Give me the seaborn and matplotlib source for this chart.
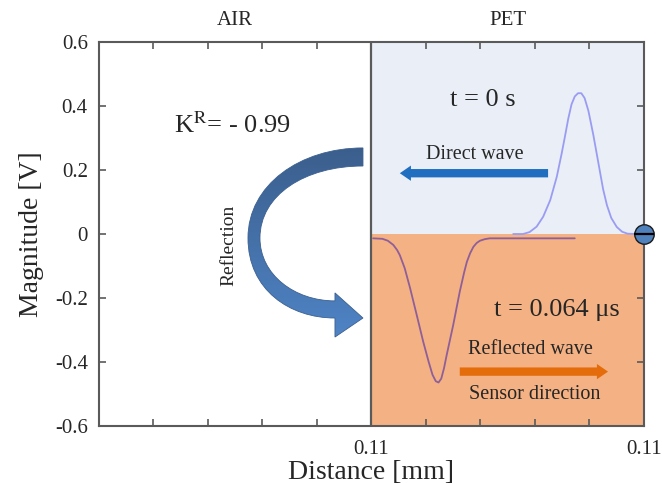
import numpy as np
import pandas as pd
import matplotlib.pyplot as plt
import seaborn as sns
from matplotlib.path import Path
from matplotlib.patches import PathPatch
from matplotlib.colors import LinearSegmentedColormap

# Wave at t = 0 (direct wave, travelling towards the interface)
direct_x = [7.6, 7.78, 7.9, 8.03, 8.15, 8.28, 8.40, 8.49, 8.55, 8.61, 8.67, 8.73, 8.79,
            8.85, 8.91, 8.98, 9.07, 9.16, 9.25, 9.32, 9.40, 9.50, 9.60, 9.70, 9.87, 10.0]
direct_y = [0.0, 0.0, 0.006, 0.023, 0.054, 0.106, 0.179, 0.252, 0.305, 0.36, 0.405, 0.43,
            0.44, 0.44, 0.425, 0.385, 0.31, 0.225, 0.14, 0.09, 0.05, 0.022, 0.007, 0.001,
            0.0, 0.0]

# Wave at t = 0.064 us (reflected, inverted)
refl_x = [5.03, 5.20, 5.30, 5.40, 5.47, 5.52, 5.61, 5.71, 5.83, 5.95, 6.05, 6.12, 6.18,
          6.23, 6.28, 6.33, 6.38, 6.50, 6.62, 6.70, 6.75, 6.81, 6.87, 6.93, 6.99, 7.08,
          7.17, 8.73]
refl_y = [-0.0135, -0.015, -0.021, -0.034, -0.050, -0.066, -0.107, -0.170, -0.253, -0.337,
          -0.400, -0.440, -0.460, -0.464, -0.452, -0.420, -0.378, -0.284, -0.180, -0.120,
          -0.087, -0.060, -0.040, -0.028, -0.021, -0.016, -0.0135, -0.0135]

x_ticks = list(range(11))
x_labels = ['', '', '', '', '', '0.11', '', '', '', '', '0.11']
y_ticks = [-0.6, -0.4, -0.2, 0, 0.2, 0.4, 0.6]
y_labels = ['-0.6', '-0.4', '-0.2', '0', '0.2', '0.4', '0.6']

sns.set_style('ticks')
plt.rcParams['font.family'] = ['Liberation Serif', 'DejaVu Serif']
plt.rcParams['mathtext.fontset'] = 'stix'

fig = plt.figure(figsize=(6.62, 4.84), dpi=100)
ax = fig.add_axes([0.1495, 0.1198, 0.8233, 0.7934])

# material regions
ax.fill_between([5, 10], 0, 0.6, color='#E9EEF7', zorder=0, lw=0)
ax.fill_between([5, 10], -0.6, 0, color='#F4B183', zorder=0, lw=0)
ax.axvline(5, color='#5a5a5a', lw=1.6, zorder=3)

df_direct = pd.DataFrame({'x': direct_x, 'y': direct_y})
df_refl = pd.DataFrame({'x': refl_x, 'y': refl_y})
sns.lineplot(data=df_direct, x='x', y='y', ax=ax, color='#9a9cf2', lw=1.3, zorder=4,
             solid_joinstyle='round')
sns.lineplot(data=df_refl, x='x', y='y', ax=ax, color='#8e5f99', lw=1.3, zorder=4,
             solid_joinstyle='round')

ax.set_xlim(0, 10)
ax.set_ylim(-0.6, 0.6)
ax.set_xticks(x_ticks)
ax.set_xticklabels(x_labels)
ax.set_yticks(y_ticks)
ax.set_yticklabels(y_labels)
ax.tick_params(direction='in', length=5, width=1.2, color='#5a5a5a', labelsize=15,
               top=True, right=True)
ax.tick_params(axis='y', pad=8)
ax.tick_params(axis='x', pad=10)
for s in ax.spines.values():
    s.set_color('#5a5a5a')
    s.set_linewidth(1.5)

ax.set_xlabel('Distance [mm]', fontsize=20)
ax.set_ylabel('Magnitude [V]', fontsize=20)
ax.xaxis.set_label_coords(0.5, -0.088)
ax.yaxis.set_label_coords(-0.1, 0.5)

# region names
ax.text(2.5, 0.668, 'AIR', ha='center', va='center', fontsize=15, clip_on=False)
ax.text(7.5, 0.668, 'PET', ha='center', va='center', fontsize=15, clip_on=False)

ax.text(2.45, 0.34, r'K$^{\mathrm{R}}$= - 0.99', ha='center', va='center', fontsize=19)
ax.text(7.05, 0.42, 't = 0 s', ha='center', va='center', fontsize=19)
ax.text(8.4, -0.237, 't = 0.064 μs', ha='center', va='center', fontsize=19)
ax.text(6.9, 0.247, 'Direct wave', ha='center', va='center', fontsize=14.5)
ax.text(7.91, -0.36, 'Reflected wave', ha='center', va='center', fontsize=14.5)
ax.text(8.0, -0.50, 'Sensor direction', ha='center', va='center', fontsize=14.5)
ax.text(2.39, -0.034, 'Reflection', ha='center', va='center', fontsize=14, rotation=90)

# straight arrows
ax.annotate('', xy=(5.52, 0.19), xytext=(8.24, 0.19),
            arrowprops=dict(arrowstyle='simple,head_width=1.1,head_length=0.8,tail_width=0.6',
                            mutation_scale=10, color='#1F6EBF', lw=0, shrinkA=0, shrinkB=0))
ax.annotate('', xy=(9.34, -0.43), xytext=(6.62, -0.43),
            arrowprops=dict(arrowstyle='simple,head_width=1.1,head_length=0.8,tail_width=0.6',
                            mutation_scale=10, color='#E46C0A', lw=0, shrinkA=0, shrinkB=0))

# curved "Reflection" arrow, filled with a vertical gradient
C3, L2 = Path.CURVE4, Path.LINETO
verts = [(4.844, 0.269),
         (3.688, 0.269), (2.734, 0.153), (2.734, -0.0125),
         (2.734, -0.175), (3.505, -0.2625), (4.330, -0.2625),
         (4.330, -0.322), (4.844, -0.2625), (4.330, -0.184), (4.330, -0.209),
         (3.596, -0.209), (2.954, -0.128), (2.954, -0.0125),
         (2.954, 0.122), (3.780, 0.2125), (4.844, 0.2125),
         (4.844, 0.269)]
codes = [Path.MOVETO, C3, C3, C3, C3, C3, C3, L2, L2, L2, L2, C3, C3, C3, C3, C3, C3,
         Path.CLOSEPOLY]
arrow = PathPatch(Path(verts, codes), fc='none', ec='#3B5F8F', lw=0.6, zorder=5)
ax.add_patch(arrow)
grad = LinearSegmentedColormap.from_list('g', ['#4F84C6', '#3B5E8C'])
img = ax.imshow(np.linspace(0, 1, 100).reshape(-1, 1), cmap=grad, origin='lower',
                extent=(2.7, 4.9, -0.33, 0.28), aspect='auto', zorder=4)
img.set_clip_path(arrow)
ax.set_xlim(0, 10)
ax.set_ylim(-0.6, 0.6)

# sensor marker
ax.plot([10], [0], 'o', ms=14, mfc='#4F81BD', mec='#1a1a1a', mew=1.0, clip_on=False, zorder=10)
ax.plot([10], [0], '_', ms=14, mec='black', mew=1.6, clip_on=False, zorder=11)

fig.savefig('out.png', dpi=100)
